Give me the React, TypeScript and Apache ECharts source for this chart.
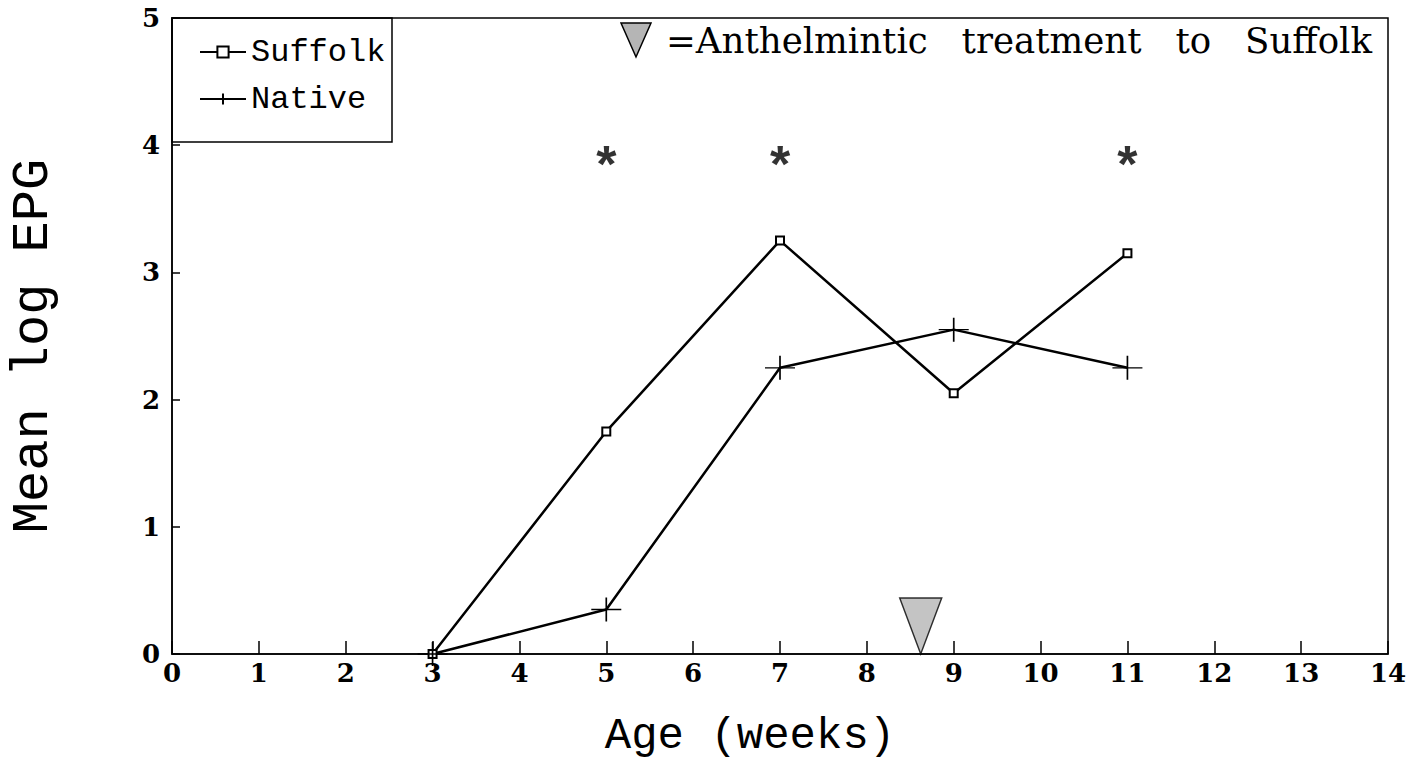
import React, { useEffect, useRef } from "react";
import * as echarts from "echarts";

const weeks = [3, 5, 7, 9, 11];
const suffolk = [0, 1.75, 3.25, 2.05, 3.15];
const native = [0, 0.35, 2.25, 2.55, 2.25];
const starWeeks = [5, 7, 11];
const starLevel = 3.85;
const treatmentWeek = 8.62;
const xTicks = [0, 1, 2, 3, 4, 5, 6, 7, 8, 9, 10, 11, 12, 13, 14];
const yTicks = [0, 1, 2, 3, 4, 5];

const PLUS = "path://M0,11 L30,11 M15,0 L15,22";
const TRI = "path://M0,0 L42,0 L21,56 Z";

export default function App() {
  const ref = useRef<HTMLDivElement>(null);
  useEffect(() => {
    if (!ref.current) return;
    const chart = echarts.init(ref.current, null, { renderer: "svg" });
    const tickFont = {
      fontFamily: "DejaVu Serif",
      fontWeight: "bold" as const,
      fontSize: 26,
      color: "#000",
    };
    chart.setOption({
      animation: false,
      backgroundColor: "#fff",
      grid: {
        left: 172,
        top: 18,
        right: 25,
        bottom: 124,
        containLabel: false,
        outerBoundsMode: "none",
        show: true,
        borderColor: "#000",
        borderWidth: 1.5,
      },
      xAxis: {
        type: "value",
        min: xTicks[0],
        max: xTicks[xTicks.length - 1],
        interval: 1,
        name: "Age (weeks)",
        nameLocation: "middle",
        nameGap: 60,
        nameTextStyle: {
          fontFamily: "Liberation Mono",
          fontSize: 44,
          color: "#000",
          padding: [0, 60, 0, 0],
        },
        axisLine: { lineStyle: { color: "#000", width: 1.5 } },
        axisTick: { inside: true, length: 13, lineStyle: { color: "#000", width: 1.5 } },
        axisLabel: { ...tickFont, margin: 6 },
        splitLine: { show: false },
      },
      yAxis: {
        type: "value",
        min: yTicks[0],
        max: yTicks[yTicks.length - 1],
        interval: 1,
        name: "Mean log EPG",
        nameLocation: "middle",
        nameGap: 113,
        nameTextStyle: {
          fontFamily: "Liberation Mono",
          fontSize: 52,
          color: "#000",
          padding: [0, 20, 0, 0],
        },
        axisLine: { lineStyle: { color: "#000", width: 1.5 } },
        axisTick: { inside: true, length: 8, lineStyle: { color: "#000", width: 1.5 } },
        axisLabel: { ...tickFont, margin: 12 },
        splitLine: { show: false },
      },
      legend: {
        data: ["Suffolk", "Native"],
        orient: "vertical",
        left: 194,
        top: 31,
        itemWidth: 46,
        itemHeight: 14,
        itemGap: 15,
        textStyle: { fontFamily: "Liberation Mono", fontSize: 32, color: "#000" },
      },
      graphic: [
        {
          type: "rect",
          shape: { x: 172, y: 18, width: 220, height: 124 },
          style: { fill: "none", stroke: "#000", lineWidth: 1.5 },
          silent: true,
        },
        {
          type: "polygon",
          shape: { points: [[621, 23], [651, 23], [636, 57]] },
          style: { fill: "#b5b5b5", stroke: "#000", lineWidth: 1.5 },
          silent: true,
        },
        {
          type: "text",
          x: 666,
          y: 40,
          style: {
            text: "=Anthelmintic   treatment   to   Suffolk",
            font: "35.6px 'DejaVu Serif'",
            fill: "#000",
            verticalAlign: "middle",
          },
          silent: true,
        },
      ],
      series: [
        {
          name: "Suffolk",
          type: "line",
          data: weeks.map((w, i) => [w, suffolk[i]]),
          symbol: "rect",
          symbolSize: 8,
          showAllSymbol: true,
          lineStyle: { color: "#000", width: 2.5 },
          itemStyle: { color: "#fff", borderColor: "#000", borderWidth: 2 },
          z: 3,
        },
        {
          name: "Native",
          type: "line",
          data: weeks.map((w, i) => [w, native[i]]),
          symbol: PLUS,
          symbolSize: [30, 24],
          showAllSymbol: true,
          lineStyle: { color: "#000", width: 2.5 },
          itemStyle: { color: "#000", borderColor: "#000", borderWidth: 1.5 },
          z: 3,
        },
        {
          name: "stars",
          type: "scatter",
          data: starWeeks.map((w) => [w, starLevel]),
          symbolSize: 0,
          silent: true,
          label: {
            show: true,
            position: "inside",
            formatter: "*",
            fontFamily: "Liberation Sans",
            fontWeight: "bold",
            fontSize: 52,
            color: "#000",
          },
        },
        {
          name: "treatment",
          type: "scatter",
          data: [[treatmentWeek, 0]],
          symbol: TRI,
          symbolSize: [42, 56],
          symbolOffset: [0, -28],
          silent: true,
          itemStyle: { color: "#b5b5b5", borderColor: "#000", borderWidth: 1.5 },
          z: 4,
        },
      ],
    });
    return () => chart.dispose();
  }, []);
  return (
    <div
      ref={ref}
      style={{ position: "fixed", left: 0, top: 0, width: 1413, height: 778, background: "#fff" }}
    />
  );
}
